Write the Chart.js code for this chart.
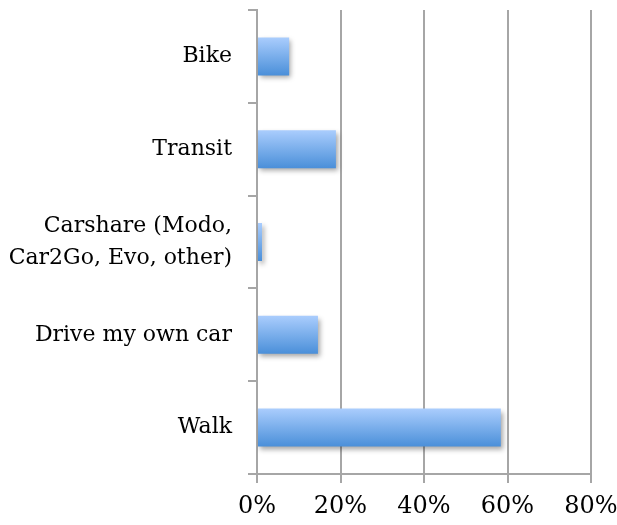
<!DOCTYPE html>
<html>
<head>
<meta charset="utf-8">
<script src="https://cdn.jsdelivr.net/npm/chart.js@4"></script>
<style>
  html, body { margin: 0; padding: 0; background: #fff; }
  #wrap { width: 617px; height: 525px; }
</style>
</head>
<body>
<div id="wrap"><canvas id="chart" width="617" height="525"></canvas></div>
<script>
// Chart data
const categories = ['Bike', 'Transit', ['Carshare (Modo,', 'Car2Go, Evo, other)'], 'Drive my own car', 'Walk'];
const shares = [7.7, 18.9, 1.2, 14.6, 58.4];
const xTicks = [0, 20, 40, 60, 80];

const gridColor = '#a6a6a6';
const fontFamily = '"DejaVu Serif", "Liberation Serif", serif';
const barPct = 0.41;

// vertical gradient per bar, light on top, darker at the bottom
function barFill(context) {
  const chart = context.chart;
  const yScale = chart.scales.y;
  if (!chart.chartArea || !yScale || context.dataIndex === undefined) return '#7fb0ee';
  const center = yScale.getPixelForValue(context.dataIndex);
  const half = (yScale.height / categories.length) * barPct / 2;
  if (!isFinite(center) || !isFinite(half)) return '#7fb0ee';
  const g = chart.ctx.createLinearGradient(0, center - half, 0, center + half);
  g.addColorStop(0, '#aacdfd');
  g.addColorStop(1, '#4a8fd9');
  return g;
}

// soft drop shadow under the bars
const barShadow = {
  id: 'barShadow',
  beforeDatasetsDraw(chart) {
    const ctx = chart.ctx;
    ctx.save();
    ctx.shadowColor = 'rgba(0,0,0,0.35)';
    ctx.shadowBlur = 5;
    ctx.shadowOffsetX = 2;
    ctx.shadowOffsetY = 3;
  },
  afterDatasetsDraw(chart) {
    chart.ctx.restore();
  }
};

new Chart(document.getElementById('chart'), {
  type: 'bar',
  data: {
    labels: categories,
    datasets: [{
      data: shares,
      backgroundColor: barFill,
      borderWidth: 0,
      barPercentage: barPct,
      categoryPercentage: 1
    }]
  },
  options: {
    indexAxis: 'y',
    responsive: false,
    animation: false,
    layout: { padding: { top: 10, right: 26, left: 0, bottom: 0 } },
    plugins: {
      legend: { display: false },
      tooltip: { enabled: false }
    },
    scales: {
      x: {
        min: 0,
        max: 80,
        afterBuildTicks: (scale) => { scale.ticks = xTicks.map(v => ({ value: v })); },
        afterFit: (scale) => { scale.height = 51; scale.paddingLeft = 0; scale.paddingRight = 0; },
        grid: {
          color: gridColor,
          lineWidth: 2,
          tickLength: 9,
          drawTicks: true
        },
        border: { color: gridColor, width: 2 },
        ticks: {
          color: '#000',
          padding: 9,
          maxRotation: 0,
          font: { family: fontFamily, size: 24 },
          callback: (v) => v + '%'
        }
      },
      y: {
        offset: true,
        afterFit: (scale) => { scale.width = 257; scale.paddingTop = 0; scale.paddingBottom = 0; },
        grid: {
          offset: true,
          drawOnChartArea: false,
          color: gridColor,
          lineWidth: 2,
          tickLength: 9
        },
        border: { color: gridColor, width: 2 },
        ticks: {
          color: '#000',
          padding: 16,
          font: { family: fontFamily, size: 22, lineHeight: 1.45 }
        }
      }
    }
  },
  plugins: [barShadow]
});
</script>
</body>
</html>
